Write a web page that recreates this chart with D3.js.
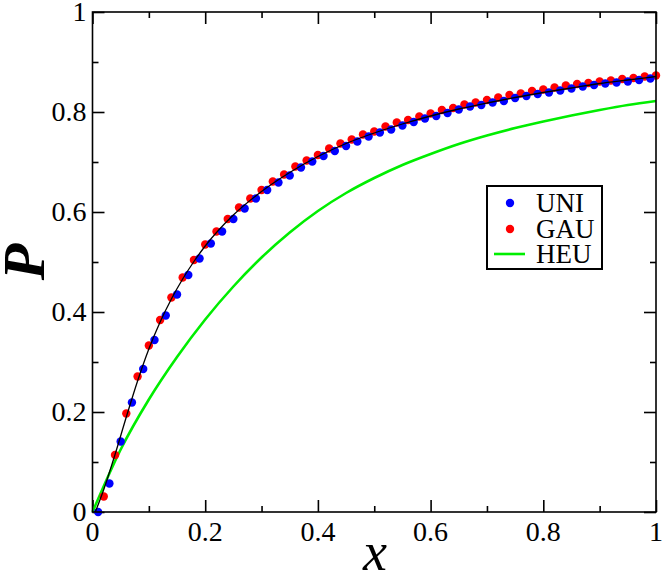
<!DOCTYPE html>
<html><head><meta charset="utf-8">
<script src="https://cdn.jsdelivr.net/npm/d3@7"></script>
<style>
body{margin:0}
#wrap{position:relative;width:664px;height:576px;}
#wrap svg{position:absolute;left:0;top:0;}
.lbl{position:absolute;font-family:"Liberation Serif";color:#000;white-space:nowrap;line-height:1;}
</style></head>
<body><div id="wrap"><svg id="s" width="664" height="576"></svg></div>
<script>
// ---------- data ----------
const uniX = [0.01,0.03,0.05,0.07,0.09,0.11,0.13,0.15,0.17,0.19,0.21,0.23,0.25,0.27,0.29,0.31,0.33,0.35,0.37,0.39,0.41,0.43,0.45,0.47,0.49,0.51,0.53,0.55,0.57,0.59,0.61,0.63,0.65,0.67,0.69,0.71,0.73,0.75,0.77,0.79,0.81,0.83,0.85,0.87,0.89,0.91,0.93,0.95,0.97,0.99];
const uniY = [0.000,0.057,0.141,0.219,0.286,0.344,0.393,0.435,0.474,0.507,0.537,0.561,0.586,0.607,0.627,0.644,0.659,0.673,0.689,0.701,0.712,0.722,0.732,0.741,0.751,0.759,0.765,0.773,0.780,0.787,0.792,0.798,0.805,0.811,0.814,0.819,0.822,0.828,0.832,0.836,0.839,0.843,0.847,0.851,0.854,0.857,0.859,0.861,0.864,0.867];
const gauX = [0.02,0.04,0.06,0.08,0.10,0.12,0.14,0.16,0.18,0.20,0.22,0.24,0.26,0.28,0.30,0.32,0.34,0.36,0.38,0.40,0.42,0.44,0.46,0.48,0.50,0.52,0.54,0.56,0.58,0.60,0.62,0.64,0.66,0.68,0.70,0.72,0.74,0.76,0.78,0.80,0.82,0.84,0.86,0.88,0.90,0.92,0.94,0.96,0.98,1.00];
const gauY = [0.031,0.114,0.197,0.271,0.333,0.384,0.429,0.469,0.504,0.535,0.561,0.586,0.609,0.627,0.644,0.661,0.675,0.691,0.703,0.714,0.727,0.737,0.745,0.755,0.761,0.771,0.779,0.784,0.791,0.797,0.804,0.808,0.815,0.819,0.824,0.829,0.834,0.837,0.842,0.845,0.849,0.853,0.856,0.858,0.861,0.863,0.866,0.868,0.871,0.873];
const fitX = [0.005,0.02,0.04,0.06,0.08,0.10,0.12,0.14,0.16,0.18,0.20,0.25,0.30,0.35,0.40,0.45,0.50,0.55,0.60,0.65,0.70,0.75,0.80,0.85,0.90,0.95,1.00];
const fitY = [0.000,0.045,0.115,0.190,0.262,0.326,0.380,0.426,0.466,0.501,0.532,0.594,0.641,0.679,0.711,0.737,0.758,0.776,0.792,0.806,0.818,0.829,0.839,0.848,0.857,0.864,0.871];
const heuX = [0,0.05,0.10,0.15,0.20,0.25,0.30,0.35,0.40,0.45,0.50,0.55,0.60,0.65,0.70,0.75,0.80,0.85,0.90,0.95,1.00];
const heuY = [0,0.125,0.225,0.310,0.385,0.451,0.509,0.559,0.602,0.638,0.668,0.694,0.716,0.736,0.753,0.768,0.781,0.793,0.804,0.814,0.822];
const majorTicks = [0,0.2,0.4,0.6,0.8,1];
const minorTicks = [0.1,0.3,0.5,0.7,0.9];
const tickLabels = ["0","0.2","0.4","0.6","0.8","1"];
const legendNames = ["UNI","GAU","HEU"];
const colors = {UNI: "#0000ff", GAU: "#ff0000", HEU: "#00ee00", FIT: "#000000"};

const wrap = d3.select("#wrap");
const svg = d3.select("#s");
const L = 92.5, R = 656, T = 12, B = 512;
const x = d3.scaleLinear().domain([0,1]).range([L,R]);
const y = d3.scaleLinear().domain([0,1]).range([B,T]);

// ---------- ticks (inward, on all four sides) ----------
function ticksOnly(axisFn, tf, vals, size) {
  const g = svg.append("g").attr("transform", tf)
    .call(axisFn.tickValues(vals).tickSizeInner(size).tickSizeOuter(0).tickFormat(""));
  g.select(".domain").remove();
  g.selectAll("text").remove();
  g.selectAll(".tick line").attr("stroke","#000").attr("stroke-width",1.6);
}
ticksOnly(d3.axisBottom(x), `translate(0,${B})`, majorTicks, -12);
ticksOnly(d3.axisBottom(x), `translate(0,${B})`, minorTicks, -6);
ticksOnly(d3.axisTop(x), `translate(0,${T})`, majorTicks, -12);
ticksOnly(d3.axisTop(x), `translate(0,${T})`, minorTicks, -6);
ticksOnly(d3.axisLeft(y), `translate(${L},0)`, majorTicks, -12);
ticksOnly(d3.axisLeft(y), `translate(${L},0)`, minorTicks, -6);
ticksOnly(d3.axisRight(y), `translate(${R},0)`, majorTicks, -12);
ticksOnly(d3.axisRight(y), `translate(${R},0)`, minorTicks, -6);

// ---------- lines ----------
const line = d3.line().x(d => x(d[0])).y(d => y(d[1])).curve(d3.curveMonotoneX);
svg.append("path").datum(heuX.map((v,i)=>[v,heuY[i]]))
  .attr("d", line).attr("fill","none").attr("stroke", colors.HEU).attr("stroke-width", 2.6);

// ---------- points ----------
svg.append("g").selectAll("circle").data(gauX.map((v,i)=>[v,gauY[i]])).join("circle")
  .attr("cx", d=>x(d[0])).attr("cy", d=>y(d[1])).attr("r", 4.2).attr("fill", colors.GAU);
svg.append("g").selectAll("circle").data(uniX.map((v,i)=>[v,uniY[i]])).join("circle")
  .attr("cx", d=>x(d[0])).attr("cy", d=>y(d[1])).attr("r", 4.2).attr("fill", colors.UNI);
svg.append("path").datum(fitX.map((v,i)=>[v,fitY[i]]))
  .attr("d", line).attr("fill","none").attr("stroke", colors.FIT).attr("stroke-width", 1.3);

// frame
svg.append("rect").attr("x", L).attr("y", T).attr("width", R-L).attr("height", B-T)
  .attr("fill","none").attr("stroke","#000").attr("stroke-width",1.6);

// ---------- legend box & symbols ----------
svg.append("rect").attr("x", 487).attr("y", 186).attr("width", 115).attr("height", 83)
  .attr("fill","#fff").attr("stroke","#000").attr("stroke-width", 2);
const rowY = [203, 229, 254];
svg.append("circle").attr("cx", 510).attr("cy", rowY[0]).attr("r", 4.2).attr("fill", colors.UNI);
svg.append("circle").attr("cx", 510).attr("cy", rowY[1]).attr("r", 4.2).attr("fill", colors.GAU);
svg.append("line").attr("x1", 494).attr("x2", 525).attr("y1", rowY[2]).attr("y2", rowY[2])
  .attr("stroke", colors.HEU).attr("stroke-width", 2.6);

// ---------- texts as HTML overlay (Liberation Serif) ----------
function label(txt, left, top, size, extra) {
  const d = wrap.append("div").attr("class","lbl").style("left", left+"px").style("top", top+"px")
    .style("font-size", size+"px").text(txt);
  if (extra) extra(d);
  return d;
}
majorTicks.forEach((v,i)=>{
  // bottom labels centred on tick
  label(tickLabels[i], x(v), B+6, 28, d=>d.style("transform","translateX(-50%)"));
  // left labels right-aligned, vertically centred
  label(tickLabels[i], L-6, y(v), 28, d=>d.style("transform","translate(-100%,-50%)"));
});
legendNames.forEach((n,i)=>{
  label(n, 536, rowY[i], 27, d=>d.style("transform","translateY(-50%)"));
});
label("x", 375, 525, 54, d=>d.style("transform","translateX(-50%)").style("font-style","italic"));
label("P", 24, 262, 60, d=>d.style("transform","translate(-50%,-50%) rotate(-90deg)")
  .style("font-style","italic").style("font-weight","bold"));
</script></body></html>
